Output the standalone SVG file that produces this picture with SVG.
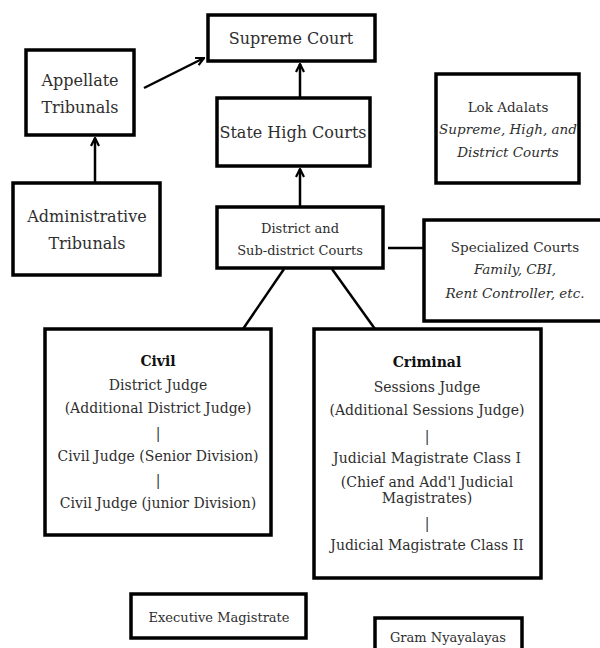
<svg xmlns="http://www.w3.org/2000/svg" width="600" height="648" viewBox="0 0 600 648">
<defs>
<style>
.box{fill:#fff;stroke:#000;stroke-width:3.5}
.t{font-family:"DejaVu Serif","Liberation Serif",serif;fill:#2e2e2e;text-anchor:middle}
.l{font-size:16px}
.s{font-size:13.5px}
.m{font-size:14px}
.i{font-style:italic}
.b{font-weight:bold;fill:#111}
.c{stroke:#000;stroke-width:2.5;fill:none}
</style>
<marker id="ah" viewBox="0 0 10 10" refX="9" refY="5" markerWidth="10" markerHeight="10" markerUnits="userSpaceOnUse" orient="auto">
<path d="M1,1 L9,5 L1,9" fill="none" stroke="#000" stroke-width="2.2"/>
</marker>
</defs>
<rect width="600" height="648" fill="#fff"/>
<g id="connectors">
<line class="c" x1="144" y1="88" x2="204" y2="58" marker-end="url(#ah)"/>
<line class="c" x1="95" y1="183" x2="95" y2="138" marker-end="url(#ah)"/>
<line class="c" x1="300" y1="98" x2="300" y2="64" marker-end="url(#ah)"/>
<line class="c" x1="300" y1="207" x2="300" y2="169" marker-end="url(#ah)"/>
<line class="c" x1="388" y1="248" x2="424" y2="248"/>
<line class="c" x1="284" y1="269" x2="243" y2="329"/>
<line class="c" x1="332" y1="269" x2="375" y2="329"/>
</g>
<g id="supreme-court">
<rect class="box" x="208" y="15" width="167" height="46"/>
<text class="t l" x="291" y="44">Supreme Court</text>
</g>
<g id="appellate-tribunals">
<rect class="box" x="26" y="50" width="108" height="85"/>
<text class="t l" x="80" y="86">Appellate</text>
<text class="t l" x="80" y="113">Tribunals</text>
</g>
<g id="administrative-tribunals">
<rect class="box" x="13" y="183" width="147" height="92"/>
<text class="t l" x="87" y="222">Administrative</text>
<text class="t l" x="87" y="249">Tribunals</text>
</g>
<g id="state-high-courts">
<rect class="box" x="217" y="98" width="153" height="68"/>
<text class="t l" x="293" y="138">State High Courts</text>
</g>
<g id="lok-adalats">
<rect class="box" x="436" y="74" width="143" height="109"/>
<text class="t s" x="508" y="112">Lok Adalats</text>
<text class="t s i" x="508" y="134">Supreme, High, and</text>
<text class="t s i" x="508" y="157">District Courts</text>
</g>
<g id="district-courts">
<rect class="box" x="217" y="207" width="166" height="61"/>
<text class="t" font-size="13" x="300" y="233">District and</text>
<text class="t" font-size="13" x="300" y="255">Sub-district Courts</text>
</g>
<g id="specialized-courts">
<rect class="box" x="424" y="220" width="182" height="101"/>
<text class="t s" x="515" y="252">Specialized Courts</text>
<text class="t s i" x="515" y="274">Family, CBI,</text>
<text class="t s i" x="515" y="298">Rent Controller, etc.</text>
</g>
<g id="civil">
<rect class="box" x="45" y="329" width="226" height="206"/>
<text class="t m b" x="158" y="366">Civil</text>
<text class="t m" x="158" y="390">District Judge</text>
<text class="t m" x="158" y="413">(Additional District Judge)</text>
<text class="t m" x="158" y="438">|</text>
<text class="t m" x="158" y="461">Civil Judge (Senior Division)</text>
<text class="t m" x="158" y="485">|</text>
<text class="t m" x="158" y="508">Civil Judge (junior Division)</text>
</g>
<g id="criminal">
<rect class="box" x="314" y="329" width="227" height="249"/>
<text class="t m b" x="427" y="367">Criminal</text>
<text class="t m" x="427" y="392">Sessions Judge</text>
<text class="t m" x="427" y="415">(Additional Sessions Judge)</text>
<text class="t m" x="427" y="441">|</text>
<text class="t m" x="427" y="463">Judicial Magistrate Class I</text>
<text class="t m" x="427" y="487">(Chief and Add'l Judicial</text>
<text class="t m" x="427" y="503">Magistrates)</text>
<text class="t m" x="427" y="528">|</text>
<text class="t m" x="427" y="550">Judicial Magistrate Class II</text>
</g>
<g id="executive-magistrate">
<rect class="box" x="131" y="594" width="175" height="44"/>
<text class="t" font-size="13" x="219" y="622">Executive Magistrate</text>
</g>
<g id="gram-nyayalayas">
<rect class="box" x="375" y="618" width="147" height="40"/>
<text class="t" font-size="13" x="448" y="642">Gram Nyayalayas</text>
</g>
</svg>
